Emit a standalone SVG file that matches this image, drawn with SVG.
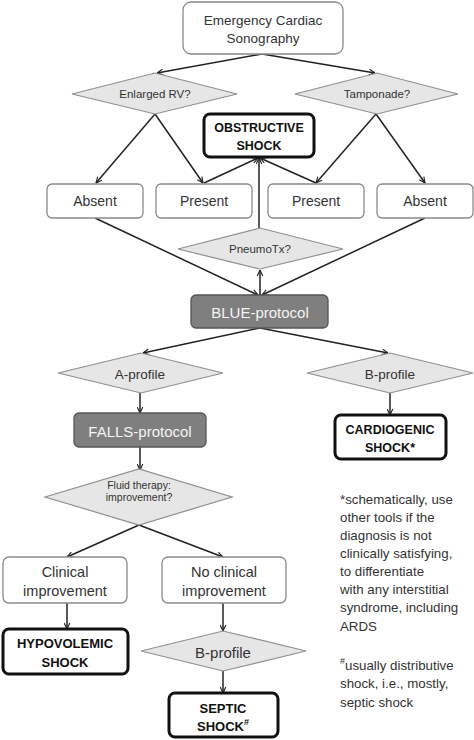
<svg xmlns="http://www.w3.org/2000/svg" width="474" height="740" viewBox="0 0 474 740">
<defs>
<marker id="ah" viewBox="0 0 10 10" refX="9.5" refY="5" markerWidth="7" markerHeight="7" markerUnits="userSpaceOnUse" orient="auto">
<path d="M1,1 L9.5,5 L1,9" fill="none" stroke="#222" stroke-width="1.6"/>
</marker>
<style>
.box{fill:#fff;stroke:#8a8a8a;stroke-width:1.3}
.dia{fill:#e6e6e6;stroke:#8f8f8f;stroke-width:1.2}
.gray{fill:#7f7f7f;stroke:#555;stroke-width:1.3}
.shock{fill:#fff;stroke:#111;stroke-width:3}
text{font-family:"Liberation Sans",Arial,sans-serif;text-anchor:middle;dominant-baseline:central;fill:#333}
.b{font-weight:bold;fill:#111}
.w{fill:#f4f4f4}
.note{text-anchor:start;font-size:13.3px;fill:#333}
.c line{stroke:#222;stroke-width:1.5;marker-end:url(#ah)}
</style>
</defs>
<rect width="474" height="740" fill="#fff"/>
<g class="c" id="connectors">
<line x1="262" y1="54" x2="157" y2="73"/>
<line x1="262" y1="54" x2="375" y2="73"/>
<line x1="155" y1="114" x2="96" y2="183"/>
<line x1="155" y1="114" x2="203" y2="183"/>
<line x1="376" y1="114" x2="316" y2="183"/>
<line x1="376" y1="114" x2="425" y2="183"/>
<line x1="204" y1="183" x2="258" y2="158"/>
<line x1="316" y1="183" x2="260" y2="158"/>
<line x1="259" y1="228" x2="259" y2="158"/>
<line x1="95" y1="218" x2="258" y2="295"/>
<line x1="425" y1="218" x2="262" y2="295"/>
<line x1="260" y1="295" x2="260" y2="270"/>
<line x1="260" y1="328" x2="143" y2="353"/>
<line x1="260" y1="328" x2="388" y2="353"/>
<line x1="140" y1="393" x2="140" y2="413"/>
<line x1="390" y1="393" x2="390" y2="415"/>
<line x1="140" y1="447" x2="140" y2="470"/>
<line x1="139" y1="525" x2="67" y2="557"/>
<line x1="139" y1="525" x2="223" y2="557"/>
<line x1="67" y1="603" x2="67" y2="629"/>
<line x1="223" y1="603" x2="223" y2="631"/>
<line x1="223" y1="671" x2="223" y2="693"/>
</g>
<g id="ecs"><rect class="box" x="183" y="2" width="160" height="52" rx="8"/><text x="263" y="20" font-size="13.5">Emergency Cardiac</text><text x="263" y="38" font-size="13.5">Sonography</text></g>
<g id="enlarged-rv"><polygon class="dia" points="72,94 155,73 237,94 155,114"/><text x="155" y="94" font-size="11.5">Enlarged RV?</text></g>
<g id="tamponade"><polygon class="dia" points="295,94 377,73 458,94 377,114"/><text x="377" y="94" font-size="11.5">Tamponade?</text></g>
<g id="obstructive"><rect class="shock" x="204" y="114" width="110" height="43" rx="6"/><text class="b" x="259" y="128" font-size="12.5">OBSTRUCTIVE</text><text class="b" x="259" y="146" font-size="12.5">SHOCK</text></g>
<g id="absent1"><rect class="box" x="47" y="184" width="96" height="34" rx="5"/><text x="95" y="201" font-size="14">Absent</text></g>
<g id="present1"><rect class="box" x="156" y="184" width="96" height="34" rx="5"/><text x="204" y="201" font-size="14">Present</text></g>
<g id="present2"><rect class="box" x="268" y="184" width="96" height="34" rx="5"/><text x="316" y="201" font-size="14">Present</text></g>
<g id="absent2"><rect class="box" x="377" y="184" width="96" height="34" rx="5"/><text x="425" y="201" font-size="14">Absent</text></g>
<g id="pneumotx"><polygon class="dia" points="178,249 260,228 343,249 260,269"/><text x="260" y="249" font-size="11.5">PneumoTx?</text></g>
<g id="blue"><rect class="gray" x="191" y="295" width="137" height="33" rx="5"/><text class="w" x="260" y="312" font-size="15">BLUE-protocol</text></g>
<g id="a-profile"><polygon class="dia" points="58,373 141,353 223,373 141,393"/><text x="140" y="374" font-size="13.5">A-profile</text></g>
<g id="b-profile1"><polygon class="dia" points="307,373 390,353 473,373 390,393"/><text x="390" y="374" font-size="13.5">B-profile</text></g>
<g id="falls"><rect class="gray" x="74" y="413" width="132" height="34" rx="5"/><text class="w" x="140" y="431" font-size="15">FALLS-protocol</text></g>
<g id="cardiogenic"><rect class="shock" x="335" y="415" width="111" height="44" rx="6"/><text class="b" x="390" y="430" font-size="12.5">CARDIOGENIC</text><text class="b" x="390" y="448" font-size="12.5">SHOCK*</text></g>
<g id="fluid"><polygon class="dia" points="45,497 139,469 232,497 139,525"/><text x="139" y="485" font-size="10.5">Fluid therapy:</text><text x="139" y="497" font-size="10.5">improvement?</text></g>
<g id="clinical"><rect class="box" x="3" y="557" width="124" height="46" rx="6"/><text x="65" y="572" font-size="14.5">Clinical</text><text x="65" y="591" font-size="14.5">improvement</text></g>
<g id="noclinical"><rect class="box" x="162" y="557" width="124" height="46" rx="6"/><text x="224" y="572" font-size="14.5">No clinical</text><text x="224" y="591" font-size="14.5">improvement</text></g>
<g id="hypovolemic"><rect class="shock" x="3" y="629" width="125" height="45" rx="6"/><text class="b" x="65" y="643" font-size="13">HYPOVOLEMIC</text><text class="b" x="65" y="662" font-size="13">SHOCK</text></g>
<g id="b-profile2"><polygon class="dia" points="141,651 223,631 306,651 223,671"/><text x="223" y="652" font-size="15">B-profile</text></g>
<g id="septic"><rect class="shock" x="169" y="693" width="109" height="44" rx="6"/><text class="b" x="223" y="708" font-size="13">SEPTIC</text><text class="b" x="223" y="726" font-size="13">SHOCK<tspan font-size="9" dy="-4">#</tspan></text></g>
<g id="notes">
<text class="note" x="340" y="499">*schematically, use</text>
<text class="note" x="340" y="517">other tools if the</text>
<text class="note" x="340" y="535">diagnosis is not</text>
<text class="note" x="340" y="553">clinically satisfying,</text>
<text class="note" x="340" y="571">to differentiate</text>
<text class="note" x="340" y="589">with any interstitial</text>
<text class="note" x="340" y="607">syndrome, including</text>
<text class="note" x="340" y="626">ARDS</text>
<text class="note" x="340" y="665"><tspan font-size="9" dy="-4">#</tspan><tspan dy="4">usually distributive</tspan></text>
<text class="note" x="340" y="683">shock, i.e., mostly,</text>
<text class="note" x="340" y="702">septic shock</text>
</g>
</svg>
